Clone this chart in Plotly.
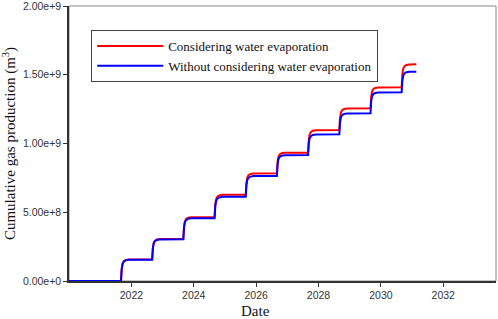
import plotly.graph_objects as go

dates = [
    "2020-01-01",
    "2021-09-01", "2021-09-09", "2021-09-19", "2021-10-03", "2021-10-26", "2021-12-01",
    "2022-09-01", "2022-09-09", "2022-09-19", "2022-10-03", "2022-10-26", "2022-12-01",
    "2023-09-01", "2023-09-09", "2023-09-19", "2023-10-03", "2023-10-26", "2023-12-01",
    "2024-09-01", "2024-09-09", "2024-09-19", "2024-10-03", "2024-10-26", "2024-12-01",
    "2025-09-01", "2025-09-09", "2025-09-19", "2025-10-03", "2025-10-26", "2025-12-01",
    "2026-09-01", "2026-09-09", "2026-09-19", "2026-10-03", "2026-10-26", "2026-12-01",
    "2027-09-01", "2027-09-09", "2027-09-19", "2027-10-03", "2027-10-26", "2027-12-01",
    "2028-09-01", "2028-09-09", "2028-09-19", "2028-10-03", "2028-10-26", "2028-12-01",
    "2029-09-01", "2029-09-09", "2029-09-19", "2029-10-03", "2029-10-26", "2029-12-01",
    "2030-09-01", "2030-09-09", "2030-09-19", "2030-10-03", "2030-10-26", "2030-12-01",
    "2031-02-20",
]

# values in units of 1e8 m^3
with_evap = [
    0,
    0, 0.87, 1.26, 1.44, 1.53, 1.57,
    1.58, 2.40, 2.77, 2.94, 3.03, 3.06,
    3.07, 3.94, 4.33, 4.51, 4.60, 4.64,
    4.65, 5.55, 5.95, 6.13, 6.23, 6.27,
    6.28, 7.13, 7.52, 7.69, 7.78, 7.82,
    7.83, 8.66, 9.03, 9.20, 9.29, 9.32,
    9.33, 10.24, 10.65, 10.83, 10.93, 10.97,
    10.98, 11.85, 12.24, 12.42, 12.51, 12.55,
    12.56, 13.40, 13.78, 13.95, 14.04, 14.08,
    14.09, 15.01, 15.43, 15.61, 15.71, 15.75,
    15.76,
]

without_evap = [
    0,
    0, 0.85, 1.24, 1.41, 1.50, 1.54,
    1.55, 2.36, 2.73, 2.90, 2.99, 3.02,
    3.03, 3.88, 4.26, 4.43, 4.52, 4.56,
    4.57, 5.43, 5.82, 5.99, 6.08, 6.12,
    6.13, 6.96, 7.34, 7.50, 7.59, 7.63,
    7.64, 8.48, 8.86, 9.02, 9.11, 9.15,
    9.16, 9.99, 10.37, 10.53, 10.62, 10.66,
    10.67, 11.51, 11.89, 12.06, 12.15, 12.19,
    12.20, 13.04, 13.42, 13.58, 13.67, 13.71,
    13.72, 14.55, 14.92, 15.09, 15.18, 15.21,
    15.22,
]

series_names = ["Considering water evaporation", "Without considering water evaporation"]
x_tickvals = ["2022-01-01", "2024-01-01", "2026-01-01", "2028-01-01", "2030-01-01", "2032-01-01"]
x_ticktext = ["2022", "2024", "2026", "2028", "2030", "2032"]

fig = go.Figure()
fig.add_trace(go.Scatter(x=dates, y=[v * 1e8 for v in with_evap], mode="lines",
                         name=series_names[0], line=dict(color="#ff0000", width=2)))
fig.add_trace(go.Scatter(x=dates, y=[v * 1e8 for v in without_evap], mode="lines",
                         name=series_names[1], line=dict(color="#0000ff", width=2)))

serif = "Liberation Serif, Times New Roman, serif"
sans = "Liberation Sans, Arial, sans-serif"

fig.update_layout(
    width=498, height=319,
    margin=dict(l=69, r=2, t=6, b=38, autoexpand=False),
    paper_bgcolor="white", plot_bgcolor="white",
    showlegend=True,
    legend=dict(x=0.052, y=0.913, xanchor="left", yanchor="top",
                bgcolor="white", bordercolor="#444", borderwidth=1,
                font=dict(family=serif, size=13, color="#111"),
                tracegroupgap=0, itemwidth=66),
    xaxis=dict(type="date", range=["2020-01-01", "2033-09-10"], automargin=False,
               tickvals=x_tickvals, ticktext=x_ticktext, ticklabeloverflow="allow",
               ticks="outside", ticklen=4, tickcolor="#333", tickwidth=1.3,
               showline=True, linecolor="#333", linewidth=1.5,
               showgrid=False, zeroline=False,
               tickfont=dict(family=sans, size=10.5, color="#333")),
    yaxis=dict(range=[0, 2e9], tick0=0, dtick=5e8, tickformat=".2e", automargin=False,
               ticklabeloverflow="allow",
               ticks="outside", ticklen=4, tickcolor="#333", tickwidth=1.3,
               showline=True, linecolor="#333", linewidth=1.5,
               showgrid=False, zeroline=False,
               tickfont=dict(family=sans, size=10.5, color="#333"),
               title=dict(text="Cumulative gas production (m<sup>3</sup>)",
                          font=dict(family=serif, size=15, color="#111"), standoff=5)),
    shapes=[dict(type="rect", xref="paper", yref="paper", x0=0, y0=0, x1=1, y1=1,
                 line=dict(color="#888", width=1), layer="below")],
    annotations=[dict(text="Date", xref="paper", yref="paper", x=0.4356, y=-0.108,
                      xanchor="center", yanchor="middle", showarrow=False,
                      font=dict(family=serif, size=15, color="#111"))],
)

fig.write_html("out.html", config={"displayModeBar": False},
               post_script="document.body.style.margin='0';document.body.style.padding='0';")
